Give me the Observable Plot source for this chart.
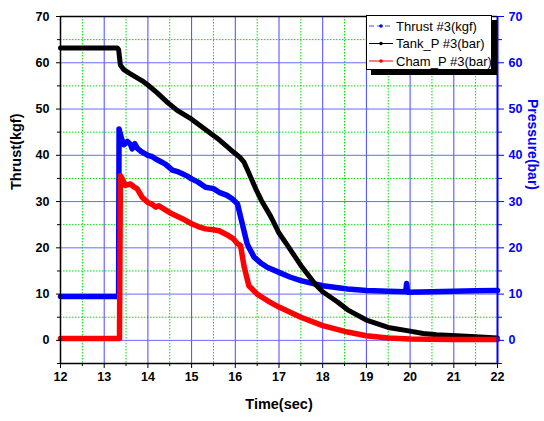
<!DOCTYPE html>
<html>
<head>
<meta charset="utf-8">
<script src="https://cdn.jsdelivr.net/npm/d3@7"></script>
<script src="https://cdn.jsdelivr.net/npm/@observablehq/plot@0.6"></script>
<style>
  body { margin: 0; background: #fff; }
  #wrap { position: relative; width: 544px; height: 421px; font-family: "Liberation Sans", Arial, sans-serif; }
  #legend { position: absolute; left: 366px; top: 15px; width: 124px; height: 53px; border: 1px solid #000; background: #fff; box-shadow: 5px 5px 0 #000; }
</style>
</head>
<body>
<div id="wrap"></div>
<script>
// ---- data ----
const thrustT = [12, 13.33, 13.34, 13.4, 13.45, 13.53, 13.6, 13.64, 13.7, 13.76, 13.85, 14.0, 14.1, 14.18, 14.3, 14.4, 14.56, 14.7, 14.79, 14.9, 15.0, 15.15, 15.32, 15.5, 15.63, 15.8, 15.93, 16.05, 16.16, 16.27, 16.31, 16.43, 16.6, 16.73, 17.0, 17.25, 17.5, 18.0, 18.57, 19.0, 19.5, 19.9, 19.92, 19.94, 20.5, 21.0, 21.5, 22];
const thrustV = [9.5, 9.5, 45.7, 43.5, 42.3, 43.0, 42.4, 41.4, 42.5, 41.5, 40.8, 40.0, 39.7, 39.2, 38.6, 38.1, 36.8, 36.4, 36.0, 35.5, 34.9, 34.2, 33.1, 32.8, 32.0, 31.4, 30.6, 29.5, 25.2, 20.9, 20.1, 18.0, 16.6, 15.8, 14.7, 13.7, 12.9, 11.8, 11.1, 10.8, 10.6, 10.5, 12.3, 10.4, 10.5, 10.6, 10.7, 10.8];

const tankT = [12, 13.3, 13.33, 13.37, 13.45, 13.6, 13.87, 14.0, 14.2, 14.44, 14.67, 15.0, 15.2, 15.6, 15.97, 16.1, 16.2, 16.3, 16.47, 16.6, 16.81, 17.0, 17.19, 17.5, 17.84, 18.0, 18.34, 18.57, 19.0, 19.5, 20.0, 20.3, 20.6, 21.06, 21.5, 22];
const tankV = [63.2, 63.2, 62.8, 59.5, 58.5, 57.6, 56.1, 55.2, 53.6, 51.5, 49.7, 47.8, 46.4, 43.6, 40.6, 39.6, 38.5, 36.4, 32.7, 30.2, 26.8, 23.2, 20.6, 16.2, 12.0, 10.5, 8.3, 6.6, 4.4, 2.8, 2.0, 1.5, 1.2, 1.0, 0.8, 0.5];

const chamT = [12, 13.35, 13.37, 13.42, 13.48, 13.6, 13.68, 13.76, 13.87, 14.0, 14.1, 14.18, 14.25, 14.4, 14.56, 14.79, 15.0, 15.15, 15.32, 15.5, 15.63, 15.85, 15.95, 16.05, 16.12, 16.2, 16.31, 16.5, 16.75, 17.0, 17.5, 18.0, 18.57, 19.0, 19.5, 20.0, 21.0, 22];
const chamV = [0.4, 0.4, 35.6, 34.8, 33.5, 33.8, 33.2, 32.7, 30.9, 29.8, 29.4, 28.8, 29.1, 28.2, 27.3, 26.3, 25.2, 24.6, 24.1, 23.9, 23.7, 22.6, 22.0, 20.9, 20.5, 16.0, 11.8, 10.0, 8.5, 7.2, 5.0, 3.2, 1.8, 1.0, 0.5, 0.3, 0.2, 0.2];

const xTicks = [12, 13, 14, 15, 16, 17, 18, 19, 20, 21, 22];
const xMinor = [12.5, 13.5, 14.5, 15.5, 16.5, 17.5, 18.5, 19.5, 20.5, 21.5];
const xGrid = [13, 14, 15, 16, 17, 18, 19, 20, 21];
const yTicks = [0, 10, 20, 30, 40, 50, 60, 70];
const yMinor = [-5, 5, 15, 25, 35, 45, 55, 65];
const yGrid = [0, 10, 20, 30, 40, 50, 60];
const yGridMinor = [5, 15, 25, 35, 45, 55, 65];

const seriesNames = ["Thrust #3(kgf)", "Tank_P #3(bar)", "Cham_P #3(bar)"];
const seriesColors = ["#0000ff", "#000000", "#ff0000"];

const thrust = thrustT.map((t, i) => ({t, v: thrustV[i]}));
const tank = tankT.map((t, i) => ({t, v: tankV[i]}));
const cham = chamT.map((t, i) => ({t, v: chamV[i]}));

const blue = "#0000ff";
const font = "'Liberation Sans', Arial, sans-serif";

const chart = Plot.plot({
  width: 544,
  height: 421,
  marginLeft: 60,
  marginRight: 47,
  marginTop: 16,
  marginBottom: 58,
  x: {domain: [12, 22], label: null},
  y: {domain: [-5, 70], label: null},
  style: {fontFamily: font, fontSize: "12.5px", fontWeight: "bold", background: "#fff", overflow: "visible"},
  marks: [
    Plot.gridX(xMinor, {stroke: "#00dd00", strokeOpacity: 1, strokeWidth: 1, strokeDasharray: "1.5,1.5"}),
    Plot.gridY(yGridMinor, {stroke: "#00dd00", strokeOpacity: 1, strokeWidth: 1, strokeDasharray: "1.5,1.5"}),
    Plot.gridX(xGrid, {stroke: "#3535ff", strokeOpacity: 0.9, strokeWidth: 1}),
    Plot.gridY(yGrid, {stroke: "#6a6aff", strokeOpacity: 1, strokeWidth: 1}),
    Plot.line(thrust, {x: "t", y: "v", stroke: seriesColors[0], strokeWidth: 5.5, curve: "linear"}),
    Plot.line(tank, {x: "t", y: "v", stroke: seriesColors[1], strokeWidth: 5, curve: "linear"}),
    Plot.line(cham, {x: "t", y: "v", stroke: seriesColors[2], strokeWidth: 5.5, curve: "linear"}),
    Plot.axisX(xTicks, {anchor: "bottom", tickSize: 5, tickPadding: 4, label: null, fontSize: 12.5}),
    Plot.axisX(xMinor, {anchor: "bottom", tickSize: 3, text: null, label: null}),
    Plot.axisY(yTicks, {anchor: "left", tickSize: 4, tickPadding: 7, label: null}),
    Plot.axisY(yMinor, {anchor: "left", tickSize: 3, text: null, label: null}),
    Plot.axisY(yTicks, {anchor: "right", tickSize: 6, tickPadding: 5, label: null, color: blue}),
    Plot.axisY(yMinor, {anchor: "right", tickSize: 4, text: null, label: null, color: blue}),
    Plot.ruleY([70], {stroke: "#000", strokeWidth: 1.5}),
    Plot.ruleY([-5], {stroke: "#000", strokeWidth: 1.5}),
    Plot.ruleX([12], {stroke: "#000", strokeWidth: 1.5}),
    Plot.ruleX([22], {stroke: blue, strokeWidth: 2}),
    Plot.text(["Time(sec)"], {frameAnchor: "bottom", dy: 45, fontSize: 14.5, fontWeight: "bold", fill: "#000"}),
    Plot.text(["Thrust(kgf)"], {frameAnchor: "left", dx: -44, rotate: -90, fontSize: 14.5, fontWeight: "bold", fill: "#000"}),
    Plot.text(["Pressure(bar)"], {frameAnchor: "right", dx: 35, rotate: 90, fontSize: 14, fontWeight: "bold", fill: blue})
  ]
});

const wrap = document.getElementById("wrap");
wrap.appendChild(chart);

// legend
const legend = document.createElement("div");
legend.id = "legend";
wrap.appendChild(legend);
const lsvg = d3.select(legend).append("svg").attr("width", 124).attr("height", 53);
const rows = [10, 27.5, 45];
seriesNames.forEach((name, i) => {
  const g = lsvg.append("g").attr("transform", `translate(0,${rows[i]})`);
  g.append("line").attr("x1", 2).attr("x2", 26).attr("y1", 0).attr("y2", 0)
    .attr("stroke", i === 0 ? "#4a4aff" : seriesColors[i]).attr("stroke-width", 1)
    .attr("stroke-dasharray", i === 0 ? "5,3" : null);
  g.append("circle").attr("cx", 14).attr("cy", 0).attr("r", 1.8).attr("fill", seriesColors[i]);
  g.append("text").attr("x", 29).attr("y", 0).attr("dy", "0.35em")
    .attr("font-family", font).attr("font-size", 13).attr("fill", "#000").text(name);
});
</script>
</body>
</html>
